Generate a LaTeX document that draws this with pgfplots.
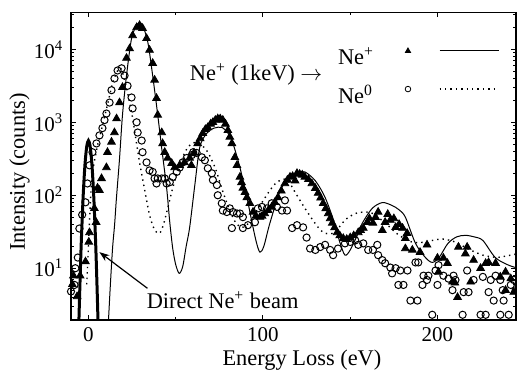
\documentclass[border=0pt]{standalone}
\usepackage{fontspec}
\setmainfont{Liberation Serif}
\usepackage{pgfplots}
\pgfplotsset{compat=1.18}
\usepackage{pgfplotstable}
\usetikzlibrary{arrows.meta}

\pgfplotsset{
 legmark/.style={legend image code/.code={\pgfpathrectangle{\pgfpoint{-17pt}{0pt}}{\pgfpoint{31.5pt}{7pt}}\pgfusepath{}\draw[##1] plot coordinates {(0pt,3.5pt)};}},
 legline/.style={legend image code/.code={\draw[##1] (0pt,3.5pt) -- (29.5pt,3.5pt);}},
}

% Ne+ data (triangles)
\pgfplotstableread{
E I
-9.2 6.0
-8.6 7.9
-6.5 4.1
-4.8 7.9
-1.7 12.3
0.2 22.9
0.6 30.9
3.4 66.1
4.4 42.7
5.2 126
6.3 117
7.5 170
10.3 240
10.9 389
13.2 537
14.9 724
16.1 1122
17.8 1862
19.5 3020
21.8 7586
23.6 10233
25.3 15488
27.6 19953
29.3 21380
31 19498
33.3 14125
35 9772
36.8 6457
37.9 3802
39 2138
39.7 1259
42 724
42.5 513
43.7 389
45.4 324
47.7 275
49.4 240
52.3 257
55 282
58 324
59 257
60.5 380
62.6 513
64 600
65.5 708
67 800
68.4 851
70 950
71.3 1000
72.7 1070
74.1 1122
75.5 1120
77 1072
78.5 950
79.9 776
81 630
82.2 513
83.9 331
85.1 257
86.8 178
87.7 150
88.5 126
89.7 110
90.8 93.3
92.5 77.6
94.3 58.9
96 52
98.3 50.1
99.5 52
101 56.2
103 62
105 69.2
106.8 80
108.6 93.3
110.5 115
112.6 145
114 162
115.5 178
117 182
118.4 158
119.5 200
121 195
122.5 190
124 178
126 165
128 145
130 125
131.6 107
133 92
134.5 77.6
136 66
137.4 56.2
138.5 48
139.7 41.7
141 36
142.5 30.9
144 28
146 25.7
148 25
150 26.3
152 28
154.6 30.9
156 33
157.5 35.5
159.8 42.7
161 48
163 41.7
164.5 50
166 58.9
168.4 33.1
170 42.7
171.5 55
173 45.7
175 48
176 36.3
178 40
180 35.5
181.6 25.7
181.6 18.6
182.6 30.2
185.6 17.8
190 16.6
194 20.9
200 13.8
200.6 8.9
203.4 13.8
205.7 11.7
208.6 6.5
210 6.3
211.5 4.0
212 19.5
216 15.8
217 19.5
219 6.5
220.7 12.9
224.7 10
227.6 11.7
229.3 12
233.3 11.7
236 7.6
239 8.9
239 5.0
242 7.2
243.7 4.7
246 6.3
}\tabNeplus

% Ne0 data (circles)
\pgfplotstableread{
E I
-10 4.8
-8 5.9
-7.5 10
-6.1 14
-5.2 35
-3.6 54
-1.7 80
-0.6 145
0.6 257
2.3 389
4.6 513
6.3 661
8 832
9.2 1072
10.3 1318
12.1 1862
13.2 2754
14.9 3981
16.7 5129
19 5495
20.7 4365
22.4 3162
24.7 2188
25.3 1549
27.6 1000
28.2 724
30.5 562
31 389
33.3 282
35 219
36.8 209
37.9 170
39 145
39.7 170
42 170
43.7 170
44.8 145
46.6 151
48.3 178
50.6 209
52.3 240
54 282
56.3 324
59.2 355
60 389
62 380
65 331
66.7 302
68.4 234
70.7 200
71.3 162
73.6 138
74.1 100
76.4 77.6
77 61.7
79.3 58.9
81 66.1
82.8 58.9
85.1 56.2
86.8 56.2
88.5 50.1
82.2 35.5
88.5 35.5
91.4 38.9
95.4 42.7
97.1 66.1
99.4 69.2
102.3 66.1
105 77.6
108 69.2
110.9 61.7
112.6 85.1
113.8 61.7
116.7 35.5
119.5 38.9
123 36.3
125 26.3
127 18.6
130 17.8
132.8 19.5
135.6 20.9
138.5 17.8
140.2 15.1
143 18.6
147 21.9
150 22.9
152.9 24
154.6 20.9
157.5 21.9
160.3 17.8
163 17.8
165.5 20.9
166 15.1
168.4 12.9
170 11.7
173 10.2
174 8.5
176 10
178.7 9.3
182.8 9.3
177.6 5.9
180.5 5.9
184.5 3.6
188.5 3.6
187.4 12
189 12
192 7.9
194.8 7.9
191.4 5.9
194 6.9
197 2.3
198.9 9.3
200 5.9
200.6 11
203.4 7.9
206.3 7.2
209.2 7.9
210.3 6.9
208.6 5.0
214.4 2.3
215 4.7
217 9.3
217.8 4.7
220.7 6.9
224.7 2.3
226 7.6
227.6 2.3
229.3 4.7
230.5 6.9
232.2 3.6
233.3 7.9
236 6.9
236 2.3
237.4 5.0
237.9 3.6
240.8 2.3
242 5.9
243.7 6.9
244.8 5.0
}\tabNezero

% Ne+ model (solid)
\pgfplotstableread{
E I
11 1.4
11.5 2.0
12.5 5.6
13.8 18.6
15 40
16 89
17.8 316
19.5 1259
21.8 4365
24.7 14125
27.6 21380
29.3 22909
31 21380
34 12589
36.8 4365
39.7 1259
42 437
44.8 126
46.6 42.7
48.3 18.6
50 11.2
52 8.5
54 10.5
56 20
58 36.3
61 141
63.8 457
67.8 708
72 832
76.4 851
80 708
82.8 513
86.8 240
90.8 93.3
94.3 36.3
96.5 21.4
98.3 16.6
100.5 20
104 41.7
110 117
115.5 178
120 204
124 209
130 158
135.6 93.3
141 41.7
144 22.9
147 15.1
150 17.8
154 28.2
157 41.7
162.6 66.1
168.4 79.4
174 72.4
178 63.1
181.6 50.1
187.4 21.9
193 14.1
197 12
201 14.1
206 21.9
211 26.9
216 28.2
221 26.9
226 24
233 14.1
240 11.2
246 10
}\tabModplus

% Ne0 model (dotted)
\pgfplotstableread{
E I
-1 6
0 20
1 71
2.3 200
5.2 479
8 891
11 1778
14 3548
17 5248
19 5248
22 2818
25 1259
27 631
29.3 282
32 126
35 53.7
38 33.1
40.8 30.2
43 39.8
45.4 66.1
48.3 126
52 251
56 417
60 525
64 501
68.4 389
73 224
77 112
81 61.7
84.5 41.7
88 36.3
92 41.7
96.5 61.7
104 117
108 151
112 166
115 151
118.4 110
122 79.4
126 56.2
131.6 36.3
135.6 30.2
141 30.9
147 45.7
153 56.2
158.6 58.9
163 56.2
170 41.7
177 29.5
184 23.4
190 22.4
197 24
203 25.1
210 22.9
218 18.2
226 15.1
234 14.1
240 14.8
246 15.8
}\tabModzero

% direct beam (thick)
\pgfplotstableread{
E I
-6 0.6
-5.5 1.8
-5 4.8
-4.5 11.9
-4 26.8
-3 101
-2 262
-1 463
0 560
1 463
2 262
3 101
4 26.8
4.5 11.9
5 4.8
5.5 1.8
6 0.6
}\tabBeam

\begin{document}
\begin{tikzpicture}
\fontsize{11.2}{13.4}\selectfont
\useasboundingbox (-35.5pt,-25pt) rectangle (223pt,160pt);
\begin{axis}[
 at={(0pt,0pt)}, anchor=south west,
 scale only axis, width=222.5pt, height=153.75pt,
 xmin=-10, xmax=245, ymin=1.95, ymax=32000, ymode=log,
 xtick={0,100,200}, xticklabels={0,100,200},
 minor xtick={50,150},
 ytick={10,100,1000,10000},
 yticklabels={10\textsuperscript{1},10\textsuperscript{2},10\textsuperscript{3},10\textsuperscript{4}},
 minor ytick={2,3,4,5,6,7,8,9,20,30,40,50,60,70,80,90,200,300,400,500,600,700,800,900,2000,3000,4000,5000,6000,7000,8000,9000,20000,30000},
 tick pos=both, ticklabel pos=left,
 tick align=inside,
 major tick length=2.5pt, minor tick length=1.5pt,
 every tick/.style={black, line width=0.5pt},
 axis line style={line width=0.6pt},
 tick label style={font=\fontsize{10.5}{12}\selectfont},
 xlabel={Energy Loss (eV)},
 ylabel={Intensity (counts)},
 label style={font=\fontsize{11.2}{13.4}\selectfont},
 xlabel style={at={(axis description cs:0.519,0)}, anchor=base, yshift=-22.5pt},
 ylabel style={at={(axis description cs:-0.1034,0.481)}, anchor=base},
 legend columns=2, legend plot pos=right,
 legend style={draw=none, fill=none, at={(rel axis cs:0.6,0.8976)}, anchor=north west,
   inner sep=0pt, outer sep=0pt, row sep=7pt, column sep=0pt,
   nodes={inner sep=0pt, outer sep=0pt, font=\fontsize{11.2}{13.4}\selectfont}},
 legend cell align=left,
]
\addlegendimage{legmark, only marks, mark=triangle*, mark size=1.5pt, black}
\addlegendentry{Ne\textsuperscript{+}}
\addlegendimage{legline, black, solid, line width=0.5pt}
\addlegendentry{}
\addlegendimage{legmark, only marks, mark=o, mark size=1.4pt, black}
\addlegendentry{Ne\textsuperscript{0}}
\addlegendimage{legline, black, dotted, line width=0.7pt}
\addlegendentry{}

\addplot[forget plot, black, line width=0.5pt, smooth, tension=0.5] table[x=E,y=I] {\tabModplus};
\addplot[forget plot, black, line width=0.7pt, dotted, smooth, tension=0.5] table[x=E,y=I] {\tabModzero};
\addplot[forget plot, black, line width=1.5pt, smooth, tension=0.5] table[x=E,y=I] {\tabBeam};
\addplot[forget plot, only marks, mark=o, mark size=1.8pt, mark options={black, line width=0.5pt}] table[x=E,y=I] {\tabNezero};
\addplot[forget plot, only marks, mark=triangle*, mark size=2.2pt, mark options={black}] table[x=E,y=I] {\tabNeplus};

\node[anchor=base west, inner sep=0pt] at (axis cs:57.9,3760) {Ne\textsuperscript{+} (1keV) $\rightarrow$};
\node[anchor=base west, inner sep=0pt] at (axis cs:33.2,2.83) {Direct Ne\textsuperscript{+} beam};
\draw[-{Stealth[length=5pt,width=3.6pt]}, line width=0.6pt] (axis cs:33.8,5.3) -- (axis cs:6.3,16.6);
\end{axis}
\end{tikzpicture}
\end{document}
